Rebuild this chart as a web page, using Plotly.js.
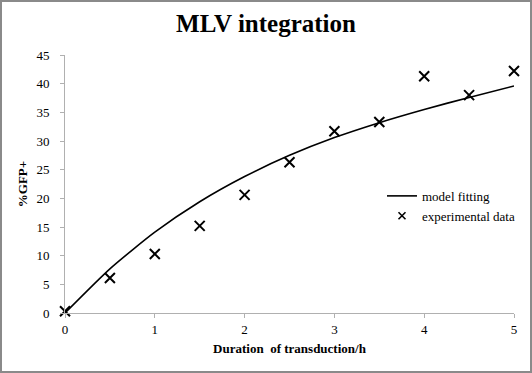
<!DOCTYPE html>
<html>
<head>
<meta charset="utf-8">
<script src="https://cdn.plot.ly/plotly-3.0.1.min.js"></script>
<style>
html,body{margin:0;padding:0;background:#fff;}
#wrap{position:relative;width:532px;height:373px;}
#chart{width:532px;height:373px;}
#frame{position:absolute;left:0;top:0;width:532px;height:373px;box-sizing:border-box;border:2px solid #8a8a8a;pointer-events:none;}
</style>
</head>
<body>
<div id="wrap"><div id="chart"></div><div id="frame"></div></div>
<script>
var expTime = [0, 0.5, 1, 1.5, 2, 2.5, 3, 3.5, 4, 4.5, 5];
var expGFP = [0.3, 6.1, 10.3, 15.2, 20.6, 26.3, 31.7, 33.3, 41.3, 38.0, 42.2];
var fitTime = [0, 0.5, 1, 1.5, 2, 2.5, 3, 3.5, 4, 4.5, 5];
var fitGFP = [0, 7.7, 14.1, 19.4, 23.8, 27.5, 30.6, 33.2, 35.5, 37.6, 39.6];
var xTicks = [0, 1, 2, 3, 4, 5];
var yTicks = [0, 5, 10, 15, 20, 25, 30, 35, 40, 45];

var serif = '"Liberation Serif", "Times New Roman", serif';

var traces = [
  {
    x: fitTime, y: fitGFP, mode: 'lines', name: 'model fitting',
    line: {color: '#000', width: 1.6, shape: 'spline', smoothing: 0.6},
    cliponaxis: false
  },
  {
    x: expTime, y: expGFP, mode: 'markers', name: 'experimental data',
    marker: {symbol: 'x-thin', size: 10, color: '#000', line: {color: '#000', width: 2}},
    cliponaxis: false, showlegend: false
  },
  {
    // legend entry only (smaller legend symbol as in the reference)
    x: [null], y: [null], mode: 'markers', name: 'experimental data',
    marker: {symbol: 'x-thin', size: 7, color: '#000', line: {color: '#000', width: 1.6}}
  }
];

var layout = {
  width: 532, height: 373,
  margin: {l: 65, r: 18, t: 55, b: 60},
  paper_bgcolor: '#fff', plot_bgcolor: '#fff',
  font: {family: serif, size: 13, color: '#000'},
  title: {text: '<b>MLV integration</b>', font: {family: serif, size: 25, color: '#000'},
          x: 0.5, xanchor: 'center', y: 0.938, yanchor: 'middle'},
  xaxis: {
    range: [0, 5], tickvals: xTicks, ticktext: xTicks.map(String),
    showgrid: false, zeroline: false, showline: true, linecolor: '#b0b0b0', linewidth: 1,
    ticks: 'outside', ticklen: 4, tickcolor: '#b0b0b0',
    tickfont: {family: serif, size: 13, color: '#000'},
    title: {text: '<b>Duration  of transduction/h</b>', font: {family: serif, size: 13, color: '#000'}, standoff: 8}
  },
  yaxis: {
    range: [0, 45], tickvals: yTicks, ticktext: yTicks.map(String),
    showgrid: false, zeroline: false, showline: true, linecolor: '#b0b0b0', linewidth: 1,
    ticks: 'outside', ticklen: 4, tickcolor: '#b0b0b0', ticklabelstandoff: 8,
    tickfont: {family: serif, size: 13, color: '#000'},
    title: {text: '<b>%GFP+</b>', font: {family: serif, size: 13, color: '#000'}, standoff: 5}
  },
  legend: {
    x: 0.706, y: 0.415, xanchor: 'left', yanchor: 'middle',
    bgcolor: 'rgba(0,0,0,0)', font: {family: serif, size: 13, color: '#000'},
    tracegroupgap: 0
  },
  showlegend: true
};

Plotly.newPlot('chart', traces, layout, {displayModeBar: false, staticPlot: true});
</script>
</body>
</html>
